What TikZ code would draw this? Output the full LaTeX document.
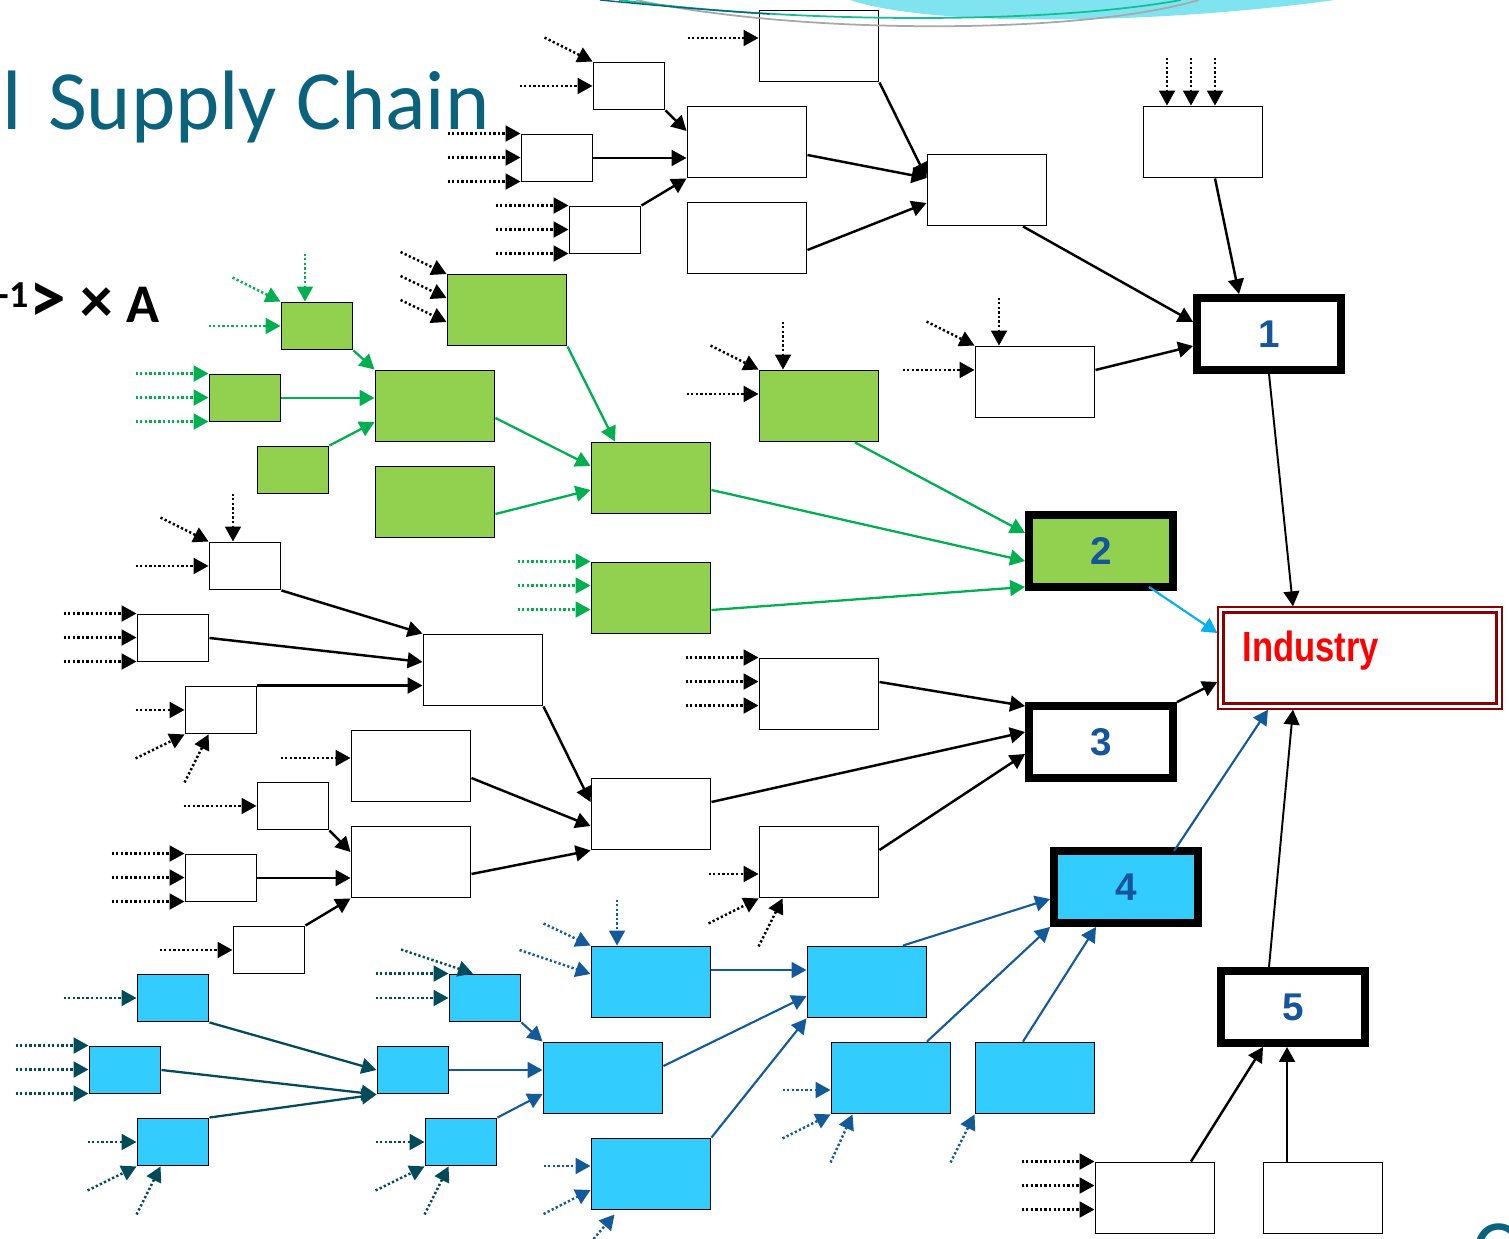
\documentclass[tikz,border=0pt]{standalone}
\usepackage{fontspec}
\setmainfont{Liberation Sans}
\newfontfamily\calibri{Carlito}
\usetikzlibrary{arrows.meta}

\definecolor{grfill}{HTML}{92D050}
\definecolor{grline}{HTML}{00B050}
\definecolor{cyfill}{HTML}{33CCFF}
\definecolor{blline}{HTML}{135A9B}
\definecolor{tlline}{HTML}{014B5A}
\definecolor{skyline}{HTML}{00B0F0}
\definecolor{numblue}{HTML}{14559B}
\definecolor{indred}{HTML}{FF0000}
\definecolor{indframe}{HTML}{8B0000}
\definecolor{titleteal}{HTML}{0A627D}
\definecolor{wavecyan}{HTML}{80E4F0}
\definecolor{wavegreen}{HTML}{10C090}
\definecolor{wavegrey}{HTML}{A8A8A8}

\tikzset{
  sbox/.style={draw, line width=1.1pt, fill=white, minimum width=1.42cm, minimum height=0.94cm, inner sep=0pt},
  wbox/.style={sbox, minimum width=2.38cm, minimum height=1.42cm},
  gsbox/.style={sbox, fill=grfill},
  gwbox/.style={wbox, fill=grfill},
  csbox/.style={sbox, fill=cyfill},
  cwbox/.style={wbox, fill=cyfill},
  bigbox/.style={draw, line width=4.5pt, fill=white, minimum width=2.88cm, minimum height=1.44cm, inner sep=0pt,
    text=numblue, font=\fontsize{22}{26}\selectfont\bfseries},
  indbox/.style={draw=indframe, line width=0.8pt, fill=white, minimum width=5.68cm, minimum height=2.04cm, inner sep=0pt},
  tip/.style={-{Triangle[length=8.5pt,width=9pt]}},
  flow/.style={tip, line width=1.4pt},
  thinflow/.style={tip, line width=1.1pt},
  gflow/.style={tip, line width=1.3pt, grline},
  bflow/.style={tip, line width=1.2pt, blline},
  tflow/.style={tip, line width=1.3pt, tlline},
  skyflow/.style={tip, line width=1.2pt, skyline},
  feedk/.style={tip, line width=1.4pt, dash pattern=on 1.3pt off 1.3pt},
  feedg/.style={feedk, grline},
  feedb/.style={feedk, blline},
  feedt/.style={feedk, tlline}
}

% dotted input arrow: target, then offset of its free end
\newcommand\feed[3][feedk]{\draw[#1] (#2) ++(#3) -- (#2);}
% three dotted inputs down the left side, from the top corner
\newcommand\feeds[3][feedk]{\foreach \dy in {0,24,48}{\feed[#1]{[shift={(0,\dy)}]#2.north west}{#3}}}

\begin{document}
\begin{tikzpicture}[x=0.02cm, y=-0.02cm]
\useasboundingbox (0,0) rectangle (1509,1239);

% Title and formula, cut at the left edge
\node[anchor=base east, text=titleteal, font=\calibri\fontsize{48}{56}\selectfont] (title) at (496,130) {al\hspace{4pt} Supply Chain};
\node[anchor=base east, font=\calibri\bfseries\fontsize{31}{36}\selectfont] (formula) at (166,323)
  {\textsuperscript{-1}\scalebox{1.35}{>}\hspace{8pt}\scalebox{1.2}{×}\hspace{8pt}A};
\node[anchor=base west, text=titleteal, font=\calibri\fontsize{48}{56}\selectfont] (pagec) at (1466,1278) {C};

% Top part
\node[wbox] (t1) at (819,46) {};
\node[sbox] (t2) at (629,86) {};
\node[sbox] (t3) at (557,158) {};
\node[sbox] (t4) at (605,230) {};
\node[wbox] (t5) at (747,142) {};
\node[wbox] (t6) at (747,238) {};
\node[wbox] (t7) at (987,190) {};
\node[wbox] (t8) at (1203,142) {};
\node[wbox] (t9) at (1035,382) {};

% Green part
\node[gsbox] (g1) at (317,326) {};
\node[gsbox] (g2) at (245,398) {};
\node[gsbox] (g3) at (293,470) {};
\node[gwbox] (g4) at (435,406) {};
\node[gwbox] (g5) at (507,310) {};
\node[gwbox] (g6) at (435,502) {};
\node[gwbox] (g7) at (651,478) {};
\node[gwbox] (g8) at (819,406) {};
\node[gwbox] (g9) at (651,598) {};

% Middle part
\node[sbox] (m1) at (245,566) {};
\node[sbox] (m2) at (173,638) {};
\node[sbox] (m3) at (221,710) {};
\node[wbox] (m4) at (483,670) {};
\node[wbox] (m5) at (411,766) {};
\node[sbox] (m6) at (293,806) {};
\node[wbox] (m7) at (411,862) {};
\node[sbox] (m8) at (221,878) {};
\node[sbox] (m9) at (269,950) {};
\node[wbox] (m10) at (651,814) {};
\node[wbox] (m11) at (819,694) {};
\node[wbox] (m12) at (819,862) {};

% Blue part
\node[csbox] (c1) at (173,998) {};
\node[csbox] (c2) at (125,1070) {};
\node[csbox] (c3) at (173,1142) {};
\node[csbox] (c4) at (413,1070) {};
\node[csbox] (c5) at (485,998) {};
\node[csbox] (c6) at (461,1142) {};
\node[cwbox] (c7) at (651,982) {};
\node[cwbox] (c8) at (603,1078) {};
\node[cwbox] (c9) at (651,1174) {};
\node[cwbox] (c10) at (867,982) {};
\node[cwbox] (c11) at (891,1078) {};
\node[cwbox] (c12) at (1035,1078) {};

% Bottom right
\node[wbox] (w1) at (1155,1198) {};
\node[wbox] (w2) at (1323,1198) {};

% Sector boxes and industry
\node[bigbox] (s1) at (1269,334) {1};
\node[bigbox, fill=grfill] (s2) at (1101,551) {2};
\node[bigbox] (s3) at (1101,742) {3};
\node[bigbox, fill=cyfill] (s4) at (1126,887) {4};
\node[bigbox] (s5) at (1293,1007) {5};
\node[indbox] (ind) at (1360,658) {};
\draw[indframe, line width=1.6pt] ([shift={(6,6)}]ind.north west) rectangle ([shift={(-6,-6)}]ind.south east);
\node[anchor=base west, text=indred, font=\fontsize{24}{28}\selectfont\bfseries] (indlabel) at ([shift={(19,4)}]ind.west) {\scalebox{0.82}[1]{Industry}};

% Top part connectors
\feed{[shift={(0,-8)}]t1.west}{-71,0}
\feed{t2.north west}{-48,-24}
\feed{t2.west}{-73,0}
\feeds{t3}{-73,0}
\feeds{t4}{-73,0}
\draw[flow] (t2.south east) -- ([shift={(0,-11)}]t5.west);
\draw[flow] (t3.east) -- (t3.east -| t5.west);
\draw[flow] (t4.north east) -- (t5.south west);
\draw[flow] (t1.south east) -- ([shift={(0,-12)}]t7.west);
\draw[flow] ([shift={(0,13)}]t5.east) -- ([shift={(0,-12)}]t7.west);
\draw[flow] ([shift={(0,12)}]t6.east) -- ([shift={(0,13)}]t7.west);
\foreach \dx in {-36,-12,12}{\feed{[shift={(\dx,0)}]t8.north}{0,-48}}
\draw[flow] ([shift={(12,0)}]t8.south) -- ([shift={(-30,0)}]s1.north);
\draw[flow] ([shift={(36,0)}]t7.south) -- ([shift={(0,-12)}]s1.west);
\feed{t9.north west}{-48,-24}
\feed{[shift={(-36,0)}]t9.north}{0,-48}
\feed{[shift={(0,-12)}]t9.west}{-72,0}
\draw[flow] ([shift={(0,-12)}]t9.east) -- ([shift={(0,12)}]s1.west);
\draw[thinflow] (s1.south) -- ([shift={(-67,0)}]ind.north);

% Green part connectors
\feed[feedg]{[shift={(-12,0)}]g1.north}{0,-48}
\feed[feedg]{g1.north west}{-48,-24}
\feed[feedg]{g1.west}{-72,0}
\feeds[feedg]{g2}{-73,0}
\foreach \dy in {-36,-12,12}{\feed{[shift={(0,\dy)}]g5.west}{-46,-22}}
\feed{g8.north west}{-48,-24}
\feed{[shift={(-36,0)}]g8.north}{0,-48}
\feed{[shift={(0,-12)}]g8.west}{-72,0}
\feeds[feedg]{g9}{-73,0}
\draw[gflow] (g1.south east) -- (g4.north west);
\draw[gflow] (g2.east) -- (g2.east -| g4.west);
\draw[gflow] (g3.north east) -- ([shift={(0,16)}]g4.west);
\draw[gflow] (g5.south east) -- ([shift={(-36,0)}]g7.north);
\draw[gflow] ([shift={(0,12)}]g4.east) -- ([shift={(0,-12)}]g7.west);
\draw[gflow] ([shift={(0,12)}]g6.east) -- ([shift={(0,12)}]g7.west);
\draw[gflow] ([shift={(36,0)}]g8.south) -- ([shift={(0,-18)}]s2.west);
\draw[gflow] ([shift={(0,12)}]g7.east) -- ([shift={(0,10)}]s2.west);
\draw[gflow] ([shift={(0,12)}]g9.east) -- ([shift={(0,-4)}]s2.south west);
\draw[skyflow] ([shift={(48,-4)}]s2.south) -- ([shift={(0,-25)}]ind.west);

% Middle part connectors
\feed{m1.north west}{-48,-24}
\feed{[shift={(-12,0)}]m1.north}{0,-48}
\feed{m1.west}{-73,0}
\feeds{m2}{-73,0}
\feed{m3.west}{-49,0}
\feed{m3.south west}{-49,24}
\feed{[shift={(24,0)}]m3.south west}{-24,48}
\feed{[shift={(0,-8)}]m5.west}{-70,0}
\feed{m6.west}{-73,0}
\feeds{m8}{-73,0}
\feed{m9.west}{-73,0}
\feeds{m11}{-73,0}
\feed{[shift={(0,12)}]m12.west}{-50,0}
\feed{m12.south west}{-50,25}
\feed{[shift={(24,0)}]m12.south west}{-24,48}
\draw[flow] (m1.south east) -- (m4.north west);
\draw[flow] (m2.east) -- ([shift={(0,-8)}]m4.west);
\draw[flow] (m3.north east) -- (m3.north east -| m4.west);
\draw[flow] (m6.south east) -- ([shift={(0,-10)}]m7.west);
\draw[flow] (m8.east) -- (m8.east -| m7.west);
\draw[flow] (m9.north east) -- (m7.south west);
\draw[flow] (m4.south east) -- ([shift={(0,-12)}]m10.west);
\draw[flow] ([shift={(0,12)}]m5.east) -- ([shift={(0,12)}]m10.west);
\draw[flow] ([shift={(0,12)}]m7.east) -- (m10.south west);
\draw[flow] ([shift={(0,-12)}]m11.east) -- ([shift={(0,4)}]s3.north west);
\draw[flow] ([shift={(0,-12)}]m10.east) -- ([shift={(0,-10)}]s3.west);
\draw[flow] ([shift={(0,-12)}]m12.east) -- ([shift={(0,12)}]s3.west);
\draw[flow] (s3.north east) -- ([shift={(0,24)}]ind.west);

% Blue part connectors
\feed[feedt]{c1.west}{-73,0}
\feeds[feedt]{c2}{-73,0}
\feed[feedt]{c3.west}{-49,0}
\feed[feedt]{c3.south west}{-49,24}
\feed[feedt]{[shift={(24,0)}]c3.south west}{-24,48}
\feed[feedt]{c5.north west}{-73,0}
\feed[feedt]{c5.west}{-73,0}
\feed[feedt]{[shift={(-12,0)}]c5.north}{-72,-24}
\feed[feedt]{c6.west}{-49,0}
\feed[feedt]{c6.south west}{-49,24}
\feed[feedt]{[shift={(24,0)}]c6.south west}{-24,48}
\feed[feedb]{[shift={(-34,0)}]c7.north}{0,-46}
\feed[feedb]{c7.north west}{-47,-22}
\feed[feedb]{[shift={(0,-8)}]c7.west}{-71,-24}
\feed[feedb]{[shift={(0,-8)}]c9.west}{-47,0}
\feed[feedb]{[shift={(0,16)}]c9.west}{-47,24}
\feed[feedb]{[shift={(24,4)}]c9.south west}{-24,28}
\feed[feedb]{[shift={(0,12)}]c11.west}{-48,0}
\feed[feedb]{c11.south west}{-48,24}
\feed[feedb]{[shift={(22,0)}]c11.south west}{-22,48}
\feed[feedb]{c12.south west}{-24,48}
\draw[tflow] (c1.south east) -- (c4.west);
\draw[tflow] (c2.east) -- (c4.south west);
\draw[tflow] (c3.north east) -- (c4.south west);
\draw[bflow] (c5.south east) -- (c8.north west);
\draw[bflow] (c4.east) -- (c4.east -| c8.west);
\draw[bflow] (c6.north east) -- ([shift={(0,16)}]c8.west);
\draw[bflow] ([shift={(0,-12)}]c7.east) -- ([shift={(0,-12)}]c10.west);
\draw[bflow] ([shift={(0,-12)}]c8.east) -- ([shift={(0,14)}]c10.west);
\draw[bflow] (c9.north east) -- (c10.south west);
\draw[bflow] ([shift={(36,0)}]c10.north) -- ([shift={(0,12)}]s4.west);
\draw[bflow] ([shift={(36,0)}]c11.north) -- (s4.south west);
\draw[bflow] ([shift={(-12,0)}]c12.north) -- ([shift={(-30,0)}]s4.south);
\draw[bflow] ([shift={(48,4)}]s4.north) -- ([shift={(-92,0)}]ind.south);

% Bottom right connectors
\feeds{w1}{-73,0}
\coordinate (w2top) at ([shift={(-36,0)}]w2.north);
\draw[flow] ([shift={(36,0)}]w1.north) -- ([shift={(-30,0)}]s5.south);
\draw[flow] (w2top) -- (w2top |- s5.south);
\draw[thinflow] ([shift={(-24,0)}]s5.north) -- ([shift={(-67,0)}]ind.south);

% Wave at the top edge
\fill[wavecyan] (850,0) .. controls (930,27) and (1150,25) .. (1335,0) -- cycle;
\draw[wavegrey, line width=1pt] (636,0) .. controls (800,35) and (1080,35) .. (1199,0);
\draw[wavegreen, line width=1pt] (619,0) .. controls (800,24) and (1050,24) .. (1181,0);
\draw[titleteal, line width=0.8pt] (600,0) .. controls (660,6) and (720,11) .. (770,14);
\end{tikzpicture}
\end{document}
